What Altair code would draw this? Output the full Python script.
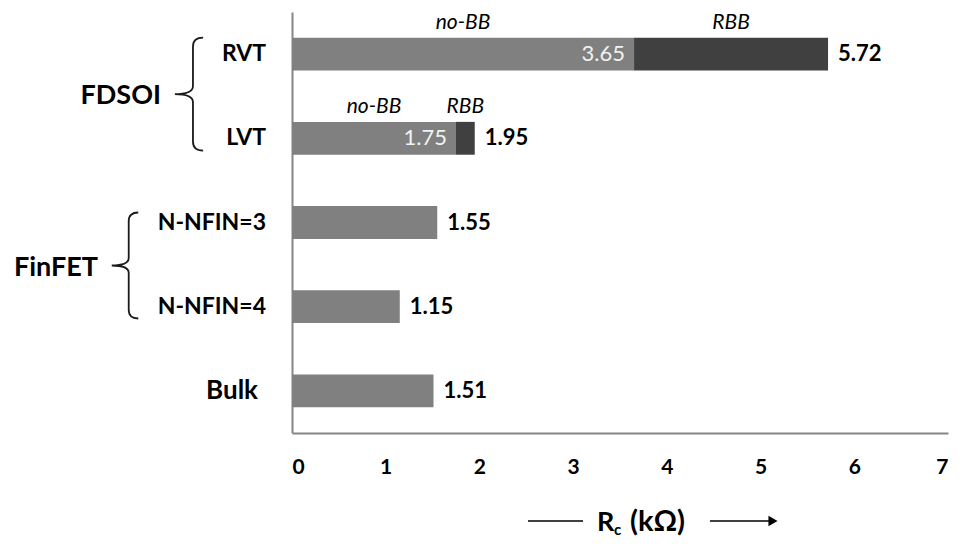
import altair as alt
import pandas as pd

# ---------------- data ----------------
categories = ["RVT", "LVT", "N-NFIN=3", "N-NFIN=4", "Bulk"]
no_bb = [3.65, 1.75, 1.55, 1.15, 1.51]
with_rbb = [5.72, 1.95, None, None, None]
totals = [5.72, 1.95, 1.55, 1.15, 1.51]
x_ticks = [0, 1, 2, 3, 4, 5, 6, 7]
segments = ["no-BB", "RBB"]
groups = ["FDSOI", "FinFET"]
group_anchor = ["RVT", "N-NFIN=3"]

FONT = "Lato"
GREY_AXIS = "#868686"

seg_rows = []
for c, a, b in zip(categories, no_bb, with_rbb):
    seg_rows.append({"category": c, "segment": "no-BB", "start": 0.0, "end": a,
                     "has_rbb": b is not None})
    if b is not None:
        seg_rows.append({"category": c, "segment": "RBB", "start": a, "end": b,
                         "has_rbb": True})
seg_df = pd.DataFrame(seg_rows)

tot_df = pd.DataFrame({"category": categories, "total": totals})
inner_df = pd.DataFrame({"category": categories, "value": no_bb,
                         "has_rbb": [b is not None for b in with_rbb]})
cat_df = pd.DataFrame({"category": categories})
grp_df = pd.DataFrame({"group": groups, "category": group_anchor})

yscale = alt.Scale(domain=categories, paddingInner=0.61, paddingOuter=0.305)
xscale = alt.Scale(domain=[0, 7], nice=False)
XAX = alt.Axis(values=x_ticks, format="d", labelFont=FONT, labelFontSize=21,
               labelFontWeight="bold", labelColor="black", ticks=False,
               grid=False, domainColor=GREY_AXIS, domainWidth=2,
               labelPadding=23, title=None)
YAX = alt.Axis(labels=False, ticks=False, domainColor=GREY_AXIS,
               domainWidth=2, title=None, grid=False)
Y = alt.Y("category:N", scale=yscale, axis=YAX)


def X(field, fmt="Q"):
    return alt.X(f"{field}:{fmt}", scale=xscale, axis=XAX)


bars = alt.Chart(seg_df).mark_bar().encode(
    x=X("start"),
    x2="end:Q",
    y=Y,
    color=alt.Color("segment:N", scale=alt.Scale(domain=segments,
                                                 range=["#808080", "#404040"]),
                    legend=None),
)

seg_titles = alt.Chart(seg_df).transform_filter("datum.has_rbb").transform_calculate(
    mid="(datum.start + datum.end) / 2"
).mark_text(font=FONT, fontSize=21, fontStyle="italic", color="black",
            baseline="middle", align="center", dy=-31).encode(
    x=X("mid"), y=Y, text="segment:N")

total_labels = alt.Chart(tot_df).mark_text(
    font=FONT, fontSize=22, fontWeight="bold", color="black", align="left",
    baseline="middle", dx=10).encode(
    x=X("total"), y=Y, text=alt.Text("total:Q", format=".2f"))

inner_labels = alt.Chart(inner_df).transform_filter("datum.has_rbb").mark_text(
    font=FONT, fontSize=22, color="#f2f2f2", align="right", baseline="middle",
    dx=-9).encode(
    x=X("value"), y=Y, text=alt.Text("value:Q", format=".2f"))

cat_labels = alt.Chart(cat_df).transform_filter("datum.category != 'Bulk'").mark_text(
    font=FONT, fontSize=23, fontWeight="bold", color="black", align="right",
    baseline="middle").encode(x=alt.value(-26), y=Y, text="category:N")

bulk_label = alt.Chart(cat_df).transform_filter("datum.category == 'Bulk'").mark_text(
    font=FONT, fontSize=26, fontWeight="bold", color="black", align="right",
    baseline="middle").encode(x=alt.value(-34), y=Y, text="category:N")

grp1 = alt.Chart(grp_df).transform_filter("datum.group == 'FDSOI'").mark_text(
    font=FONT, fontSize=27, fontWeight="bold", color="black", align="right",
    baseline="middle", dy=42).encode(x=alt.value(-131), y=Y, text="group:N")
grp2 = alt.Chart(grp_df).transform_filter("datum.group == 'FinFET'").mark_text(
    font=FONT, fontSize=27, fontWeight="bold", color="black", align="right",
    baseline="middle", dy=45).encode(x=alt.value(-194), y=Y, text="group:N")

BRACE = ("M 0.25 -1 Q 0.07 -1 0.07 -0.84 L 0.07 -0.14 Q 0.07 0 -0.25 0 "
         "Q 0.07 0 0.07 0.14 L 0.07 0.84 Q 0.07 1 0.25 1")
brace1 = alt.Chart(grp_df).transform_filter("datum.group == 'FDSOI'").mark_point(
    shape=BRACE, filled=False, size=113 * 113, strokeWidth=1.8, color="#1a1a1a",
    opacity=1, yOffset=40).encode(x=alt.value(-103), y=Y)
brace2 = alt.Chart(grp_df).transform_filter("datum.group == 'FinFET'").mark_point(
    shape=BRACE, filled=False, size=106 * 106, strokeWidth=1.8, color="#1a1a1a",
    opacity=1, yOffset=43).encode(x=alt.value(-167), y=Y)

one = alt.Data(values=[{"k": 1}])
TY = 509  # centre line of the axis title row (relative to plot top)
title_line_left = alt.Chart(one).mark_rule(color="black", strokeWidth=1.5).encode(
    x=alt.value(236), x2=alt.value(291), y=alt.value(TY))
title_line_right = alt.Chart(one).mark_rule(color="black", strokeWidth=1.5).encode(
    x=alt.value(418), x2=alt.value(478), y=alt.value(TY))
title_head = alt.Chart(one).mark_point(shape="triangle-right", filled=True,
                                       color="black", size=110, opacity=1).encode(
    x=alt.value(481), y=alt.value(TY))
title_R = alt.Chart(one).mark_text(font=FONT, fontSize=27, fontWeight="bold",
                                   color="black", align="left",
                                   baseline="alphabetic", text="R").encode(
    x=alt.value(305), y=alt.value(TY + 10))
title_c = alt.Chart(one).mark_text(font=FONT, fontSize=15, fontWeight="bold",
                                   color="black", align="left",
                                   baseline="alphabetic", text="c").encode(
    x=alt.value(322), y=alt.value(TY + 14))
title_rest = alt.Chart(one).mark_text(font=FONT, fontSize=29, fontWeight="bold",
                                      color="black", align="left",
                                      baseline="alphabetic", text="(kΩ)").encode(
    x=alt.value(338), y=alt.value(TY + 10))

chart = alt.layer(
    bars, seg_titles, total_labels, inner_labels, cat_labels, bulk_label,
    grp1, grp2, brace1, brace2,
    title_line_left, title_line_right, title_head, title_R, title_c, title_rest,
).properties(
    width=656, height=421,
    padding={"left": 284, "top": 4, "right": 8, "bottom": 105},
    autosize=alt.AutoSizeParams(type="none"),
).configure_view(stroke=None)

chart.save("out.html", embed_options={"renderer": "svg", "actions": False})
